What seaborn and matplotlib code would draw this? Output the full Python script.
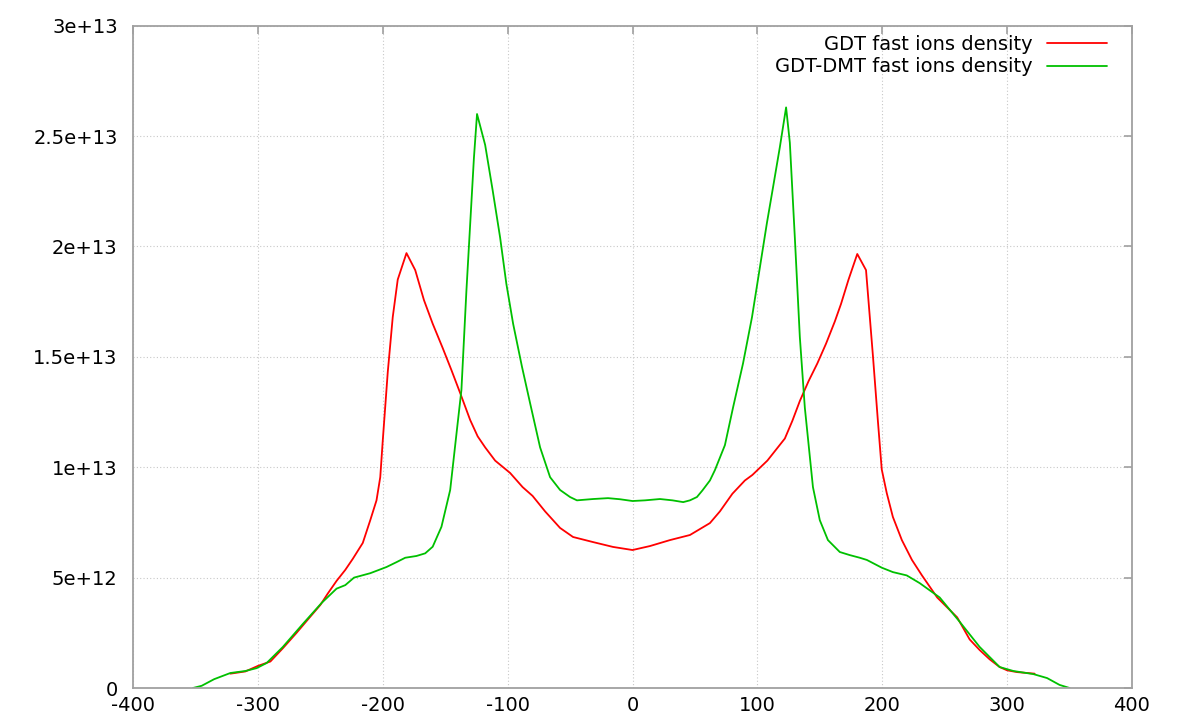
import numpy as np
import pandas as pd
import matplotlib
matplotlib.use("Agg")
import matplotlib.pyplot as plt
import seaborn as sns

# ---- data (density in units of 1e13) ----
gdt_x = [-322, -310, -300, -290, -280, -269, -260, -250, -244, -237, -230, -224, -216, -210,
         -205, -202, -200, -196, -192, -188, -181, -174, -167, -160, -152, -145, -138, -130,
         -124, -118, -110, -98, -88, -80, -70, -58, -47.6, -31.6, -15.6, 0,
         14, 30, 46, 62, 70, 80, 90, 96, 108, 115, 122, 128, 134, 141, 148,
         155, 162, 167, 173, 180, 187, 192.6, 196.5, 199.6, 203.6, 208.5, 215.7, 223.8, 231.8,
         244, 260, 270, 278, 286, 294, 300, 308, 322]
gdt_y = [0.065, 0.075, 0.10, 0.12, 0.18, 0.25, 0.31, 0.376, 0.428, 0.485, 0.535, 0.585, 0.657, 0.76,
         0.85, 0.955, 1.12, 1.43, 1.68, 1.85, 1.97, 1.893, 1.757, 1.65, 1.54, 1.44, 1.336, 1.214,
         1.14, 1.09, 1.03, 0.974, 0.91, 0.87, 0.80, 0.725, 0.684, 0.661, 0.639, 0.625,
         0.643, 0.67, 0.693, 0.747, 0.80, 0.88, 0.94, 0.965, 1.03, 1.08, 1.13, 1.21,
         1.30, 1.39, 1.47, 1.56, 1.66, 1.74, 1.85, 1.966, 1.893, 1.50, 1.21, 0.99, 0.883, 0.775,
         0.67, 0.58, 0.51, 0.41, 0.32, 0.22, 0.172, 0.13, 0.095, 0.08, 0.072, 0.065]

dmt_x = [-352, -345, -335, -322, -310, -301, -293, -280, -264, -249, -237, -230, -223,
         -210, -197, -189, -182, -173, -166, -160, -153, -146, -140, -137, -133, -130,
         -127, -124.5, -118, -112, -106, -101, -95.6, -88.5, -82, -74, -66, -58, -50,
         -44.5, -31.6, -19.6, -10, 0, 10, 22, 32, 40.6, 46, 51.6, 56, 62, 66, 74, 80.5,
         88.5, 95.7, 102, 107.6, 112.6, 118, 123, 126, 130, 134, 138, 144.5, 150, 156.5,
         166, 174, 182, 187.7, 199.6, 208.5, 219.6, 230, 246, 262, 278, 294, 305, 321, 332, 342, 350]
dmt_y = [0.0, 0.01, 0.04, 0.068, 0.077, 0.09, 0.113, 0.186, 0.29, 0.385, 0.45, 0.466, 0.50,
         0.52, 0.548, 0.57, 0.59, 0.598, 0.61, 0.64, 0.73, 0.897, 1.20, 1.35, 1.80, 2.10,
         2.40, 2.60, 2.46, 2.255, 2.04, 1.83, 1.65, 1.455, 1.29, 1.09, 0.955, 0.897, 0.865,
         0.85, 0.856, 0.86, 0.855, 0.847, 0.85, 0.856, 0.85, 0.842, 0.85, 0.865, 0.895, 0.94,
         0.987, 1.10, 1.27, 1.47, 1.68, 1.905, 2.105, 2.27, 2.45, 2.63, 2.47, 2.04,
         1.59, 1.27, 0.91, 0.76, 0.67, 0.616, 0.602, 0.59, 0.58, 0.545, 0.525, 0.51, 0.475, 0.41,
         0.30, 0.186, 0.095, 0.077, 0.063, 0.045, 0.014, 0.0]

labels = ["GDT fast ions density", "GDT-DMT fast ions density"]
colors = ["#ff0000", "#00c000"]
xticks = [-400, -300, -200, -100, 0, 100, 200, 300, 400]
yticks = [0, 5e12, 1e13, 1.5e13, 2e13, 2.5e13, 3e13]
ytick_labels = ["0", "5e+12", "1e+13", "1.5e+13", "2e+13", "2.5e+13", "3e+13"]

sns.set_style("white")
plt.rcParams['font.family'] = ['DejaVu Sans']
plt.rcParams['text.color'] = 'black'

fig = plt.figure(figsize=(11.78, 7.28), dpi=100)
ax = fig.add_axes([133/1178, 40/728, (1132-133)/1178, (688-25.7)/728])

df1 = pd.DataFrame({"x": gdt_x, "y": np.array(gdt_y) * 1e13})
df2 = pd.DataFrame({"x": dmt_x, "y": np.array(dmt_y) * 1e13})
sns.lineplot(data=df1, x="x", y="y", ax=ax, color=colors[0], lw=1.3, sort=False,
             estimator=None, label=labels[0])
sns.lineplot(data=df2, x="x", y="y", ax=ax, color=colors[1], lw=1.3, sort=False,
             estimator=None, label=labels[1])

ax.set_xlim(-400, 400)
ax.set_ylim(0, 3e13)
ax.set_xticks(xticks)
ax.set_xticklabels([str(v) for v in xticks])
ax.set_yticks(yticks)
ax.set_yticklabels(ytick_labels)
ax.set_xlabel("")
ax.set_ylabel("")
ax.grid(True, color="#c8c8c8", linestyle=(0, (1, 2)), linewidth=0.8)
ax.tick_params(axis="both", direction="in", length=6, width=1.2, color="#a0a0a0",
               labelsize=14, top=True, right=True, labelcolor="black")
ax.tick_params(axis="y", pad=11)
ax.tick_params(axis="x", pad=6)
for s in ax.spines.values():
    s.set_color("#a0a0a0")
    s.set_linewidth(1.3)

leg = ax.legend(loc="upper right", bbox_to_anchor=(1107/1178, 1 - 35/728),
                bbox_transform=fig.transFigure, frameon=False, markerfirst=False,
                fontsize=14, handlelength=3.1, handletextpad=0.72, labelspacing=0.18,
                borderpad=0, borderaxespad=0)
for t in leg.get_texts():
    t.set_color("black")
for h in leg.get_lines():
    h.set_linewidth(1.3)

fig.savefig("out.png", dpi=100)
